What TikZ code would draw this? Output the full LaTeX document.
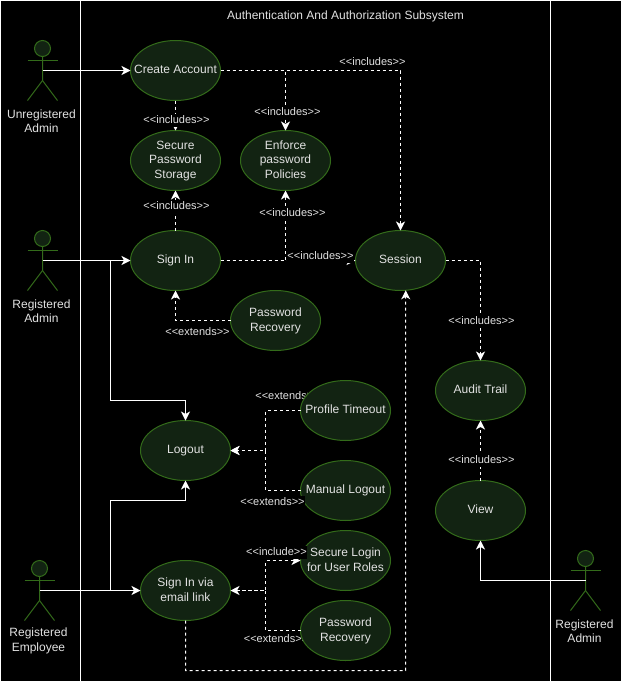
\documentclass[tikz,border=0pt]{standalone}
\usepackage{fontspec}
\setmainfont{Liberation Sans}
\usetikzlibrary{arrows.meta, positioning, shapes.geometric, calc}
\definecolor{usefill}{HTML}{122312}
\definecolor{useline}{HTML}{336B1A}
\definecolor{softwhite}{HTML}{E2E2E2}
% keeps the ellipse at its set size, whatever the text
\newcommand{\uctext}[1]{\raisebox{-7pt}{\smash{\makebox[0pt]{\begin{tabular}{@{}c@{}}#1\end{tabular}}}}}
% stick figure: name, x and y of the arms; its connector starts at the coordinate below them
\newcommand{\stickman}[3]{%
    \draw[figure, fill=usefill] (#2,#3+12) circle (8);
    \draw[figure] (#2-15,#3) -- (#2+15,#3);
    \draw[figure] (#2,#3+4) -- (#2,#3-20) -- (#2-15,#3-40);
    \draw[figure] (#2,#3-20) -- (#2+15,#3-40);
    \coordinate (#1) at (#2,#3-10);
}
\begin{document}
\begin{tikzpicture}
    [x=1pt, y=1pt, xshift=0.5pt, yshift=-0.5pt, >={Stealth[length=9pt, width=9pt, inset=2.5pt]},
    figure/.style={draw=useline, line width=1pt},
    every node/.style={font=\fontsize{12}{14.5}\selectfont, text=softwhite}]
    % Define styles for use cases, labels and connectors
    \tikzstyle{usecase} = [draw=useline, fill=usefill, ellipse, line width=1pt, inner sep=0pt, outer sep=0pt, minimum width=90pt, minimum height=60pt]
    \tikzstyle{tag} = [fill=black, inner sep=0pt, minimum height=13pt, font=\fontsize{11}{13}\selectfont]
    \tikzstyle{plainlink} = [draw=white, line width=1pt, ->]
    \tikzstyle{dashlink} = [draw=white, line width=1pt, dash pattern=on 3pt off 3pt, ->]
    \tikzstyle{lane} = [draw=white, line width=1pt]

    \useasboundingbox (-0.5,0.5) rectangle (621.5,-680.5);
    \fill[black] (-0.5,0.5) rectangle (621.5,-680.5);

    % Lanes
    \coordinate (topleft) at (0,0);
    \coordinate (topright) at (620.5,0);
    \draw[lane] (0,-680.5) -- (topleft) -- (topright) -- (620.5,-680.5);
    \draw[lane] (80,0) -- (80,-680.5);
    \draw[lane] (550,0) -- (550,-680.5);
    \node (title) at (345,-15.5) {Authentication And Authorization Subsystem};

    % These two labels lie behind their ellipses
    \node [tag] (tagprofile) at (287,-395.5) {<{}<extends>{}>};
    \node [tag] (tagrecovery) at (275.5,-638.5) {<{}<extends>{}>};

    % Use cases placement
    \node [usecase] (create) at (175,-70) {\uctext{Create Account}};
    \node [usecase, below of=create, node distance=90pt] (storage) {\uctext{Secure\\Password\\Storage}};
    \node [usecase, right of=storage, node distance=110pt] (enforce) {\uctext{Enforce\\password\\Policies}};
    \node [usecase, below of=storage, node distance=100pt] (signin) {\uctext{Sign In}};
    \node [usecase, right of=signin, node distance=225pt] (session) {\uctext{Session}};
    \node [usecase] (recovery) at (275,-320) {\uctext{Password\\Recovery}};
    \node [usecase] (logout) at (185,-450) {\uctext{Logout}};
    \node [usecase] (timeout) at (345,-410) {\uctext{Profile Timeout}};
    \node [usecase, below of=timeout, node distance=80pt] (manual) {\uctext{Manual Logout}};
    \node [usecase, below of=logout, node distance=140pt] (emaillink) {\uctext{Sign In via\\email link}};
    \node [usecase, below of=manual, node distance=70pt] (roles) {\uctext{Secure Login\\for User Roles}};
    \node [usecase, below of=roles, node distance=70pt] (recoverytwo) {\uctext{Password\\Recovery}};
    \node [usecase] (audit) at (480,-390) {\uctext{Audit Trail}};
    \node [usecase, below of=audit, node distance=120pt] (view) {\uctext{View}};

    % Actors
    \stickman{unregadmin}{42}{-60}
    \stickman{regadmin}{42}{-250}
    \stickman{regemployee}{39}{-580}
    \stickman{regadmintwo}{585}{-570}
    \node [align=center] (unreglabel) at (41,-120.5) {Unregistered\\Admin};
    \node [align=center] (reglabel) at (41,-310.5) {Registered\\Admin};
    \node [align=center] (emplabel) at (38,-640.5) {Registered\\Employee};
    \node [align=center] (regtwolabel) at (584,-630.5) {Registered\\Admin};

    % Draw solid edges
    \draw[plainlink] (unregadmin) -- (create);
    \draw[plainlink] (regadmin) -- (signin);
    \draw[plainlink] ($(regadmin)+(68,0)$) |- ($(logout.north)+(0,20)$) -- (logout.north);
    \draw[plainlink] (regemployee) -- (emaillink);
    \draw[plainlink] ($(regemployee)+(71,0)$) |- ($(logout.south)+(0,-20)$) -- (logout.south);
    \draw[plainlink] (regadmintwo) -| (view.south);

    % Draw dashed edges
    \draw[dashlink] (create) -- (storage);
    \draw[dashlink] (create.east) -| (enforce.north);
    \draw[dashlink] (create.east) -| (session.north);
    \draw[dashlink] (signin) -- (storage);
    \draw[dashlink] (signin.east) -| (enforce.south);
    \draw[dashlink] (signin) -- (session);
    \draw[dashlink] (recovery.west) -| (signin.south);
    \draw[dashlink] (session.east) -| (audit.north);
    \draw[dashlink] (view) -- (audit);
    \draw[dashlink] (timeout.west) -| ($(logout.east)+(35,0)$) -- (logout.east);
    \draw[dashlink] (manual.west) -| ($(logout.east)+(35,0)$) -- (logout.east);
    \draw[dashlink] (emaillink.east) -- ++(35,0) |- (roles.west);
    \draw[dashlink] (recoverytwo.west) -| ($(emaillink.east)+(35,0)$) -- (emaillink.east);
    \draw[dashlink] (emaillink.south) |- (405,-670) -- (session.-80);

    % Edge labels
    \node [tag] (tagstorage) at (176,-119.5) {<{}<includes>{}>};
    \node [tag] (tagenforce) at (287,-111.5) {<{}<includes>{}>};
    \node [tag] (tagsession) at (372,-61.5) {<{}<includes>{}>};
    \node [tag] (tagsignin) at (176,-205.5) {<{}<includes>{}>};
    \node [tag] (tagpolicy) at (292,-212.5) {<{}<includes>{}>};
    \node [tag] (tagsigninsession) at (320,-255.5) {<{}<includes>{}>};
    \node [tag] (tagaudit) at (481,-320.5) {<{}<includes>{}>};
    \node [tag] (tagview) at (481,-459.5) {<{}<includes>{}>};
    \node [tag] (tagrecover) at (197,-331.5) {<{}<extends>{}>};
    \node [tag] (tagmanual) at (272,-501.5) {<{}<extends>{}>};
    \node [tag] (taginclude) at (276,-551.5) {<{}<include>{}>};
\end{tikzpicture}
\end{document}
